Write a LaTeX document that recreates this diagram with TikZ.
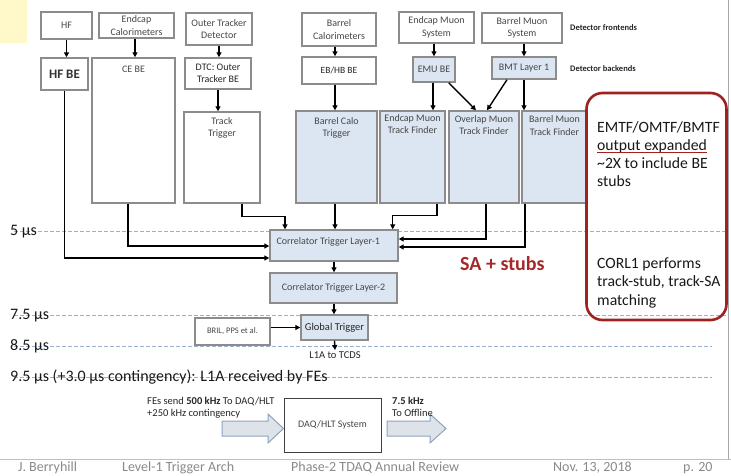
\documentclass[tikz,border=0pt]{standalone}
\usepackage{fontspec}
\setmainfont{Carlito}
\usetikzlibrary{arrows.meta,calc}
\definecolor{boxgray}{HTML}{8C8C8C}
\definecolor{lblue}{HTML}{DCE6F2}
\definecolor{txtgray}{HTML}{474747}
\definecolor{dashc}{HTML}{9AB0CC}
\definecolor{redc}{HTML}{9E2320}
\definecolor{sared}{HTML}{A6282B}
\definecolor{footgray}{HTML}{8A8A8A}
\definecolor{barrowfill}{HTML}{DEE3EA}
\definecolor{barrowline}{HTML}{8EA3BF}
\definecolor{yellowc}{HTML}{FFF8C8}
\newcommand\fBox{\fontsize{10}{12.5}\selectfont}
\newcommand\fTime{\fontsize{16}{19}\selectfont}
\newcommand\fRed{\fontsize{15.7}{18.5}\selectfont}
\newcommand\fFoot{\fontsize{14}{16}\selectfont}
\newcommand\fSmall{\fontsize{8.5}{10}\selectfont}
\newcommand\fMid{\fontsize{10.5}{12}\selectfont}
\begin{document}
\begin{tikzpicture}[x=1pt,y=-1pt,
  fbox/.style={draw=boxgray, line width=1.4pt, fill=white, text=txtgray, font=\fBox, align=center, inner sep=1pt},
  bbox/.style={fbox, fill=lblue},
  lab/.style={text=txtgray, font=\fBox, align=center, inner sep=0pt, anchor=north},
  arr/.style={draw=black, line width=1.4pt, -{Triangle[length=5pt,width=5pt]}},
  dline/.style={draw=dashc, line width=0.9pt, dash pattern=on 3.5pt off 2.5pt},
  tlab/.style={font=\fTime, inner sep=0pt, anchor=base west, text=black!90},
  rtxt/.style={font=\fRed, inner sep=0pt, anchor=base west, text=black!90},
  ftxt/.style={font=\fFoot, text=footgray, inner sep=0pt, anchor=base west},
  side/.style={font=\fSmall\bfseries, text=black!85, inner sep=0pt, anchor=base west},
  barrow/.style={draw=barrowline, fill=barrowfill, line width=1pt, line join=miter},
]
\useasboundingbox (0,0) rectangle (731,476);
\fill[white] (0,0) rectangle (731,476);
\fill[yellowc] (0,0) rectangle (27,43);
\draw[black!35, line width=1pt] (728.5,0) -- (728.5,459);
\draw[black!25, line width=1pt] (0,459) -- (731,459);

% time lines
\coordinate (d5a) at (14,231);   \coordinate (d5b) at (728,231);
\coordinate (d75a) at (14,315);  \coordinate (d75b) at (728,315);
\coordinate (d85a) at (14,346);  \coordinate (d85b) at (712,346);
\coordinate (d95a) at (14,377);  \coordinate (d95b) at (712,377);
\draw[dline] (d5a) -- (d5b);
\draw[dline] (d75a) -- (d75b);
\draw[dline] (d85a) -- (d85b);
\draw[dline] (d95a) -- (d95b);
\node[tlab] (t5) at (10,235.5) {5 µs};
\node[tlab] (t75) at (10,319.5) {7.5 µs};
\node[tlab] (t85) at (10,350.5) {8.5 µs};
\node[tlab] (t95) at (10,381.5) {9.5 µs (+3.0 µs contingency): L1A received by FEs};

% frontends
\node[fbox, minimum width=51, minimum height=27] (hf) at (66.5,25.5) {HF};
\node[fbox, minimum width=75, minimum height=25] (ecal) at (136.5,25.5) {Endcap\\Calorimeters};
\node[fbox, minimum width=66, minimum height=32] (otd) at (219,29) {Outer Tracker\\Detector};
\node[fbox, minimum width=74, minimum height=33] (bcal) at (339,29.5) {Barrel\\Calorimeters};
\node[fbox, minimum width=75, minimum height=31] (emus) at (436.5,27.5) {Endcap Muon\\System};
\node[fbox, minimum width=80, minimum height=30] (bmus) at (522,28) {Barrel Muon\\System};
\node[side] (dfe) at (570,31) {Detector frontends};

% backends
\node[fbox, minimum width=47, minimum height=32, font=\fontsize{13}{14}\selectfont\bfseries, text=black!80] (hfbe) at (64.5,74) {HF BE};
\node[fbox, minimum width=83, minimum height=145] (cebe) at (133.5,130.5) {};
\node[lab] (cebeT) at ([yshift=-9pt]cebe.north) {CE BE};
\node[fbox, minimum width=66, minimum height=31, text=black!85, font=\fontsize{10}{12.5}\selectfont] (dtc) at (218,73.5) {DTC: Outer\\Tracker BE};
\node[fbox, minimum width=76, minimum height=91] (tt) at (222,157.5) {};
\node[lab] (ttT) at ([yshift=-6pt]tt.north) {Track\\Trigger};
\node[fbox, minimum width=74, minimum height=27, text=black!85, font=\fontsize{9.5}{11}\selectfont] (ebhb) at (339,70.5) {EB/HB BE};
\node[bbox, minimum width=42, minimum height=25] (emube) at (434,69.5) {EMU BE};
\node[bbox, minimum width=64, minimum height=22] (bmtl1) at (524,68) {BMT Layer 1};
\node[side] (dbe) at (570,72) {Detector backends};

% trigger processors
\node[bbox, minimum width=81, minimum height=92] (bct) at (336.5,157) {};
\node[lab] (bctT) at ([yshift=-7pt]bct.north) {Barrel Calo\\Trigger};
\node[bbox, minimum width=65, minimum height=92] (emtf) at (412.5,157) {};
\node[lab] (emtfT) at ([yshift=-4pt]emtf.north) {Endcap Muon\\Track Finder};
\node[bbox, minimum width=70, minimum height=92] (omtf) at (484,157) {};
\node[lab] (omtfT) at ([yshift=-5pt]omtf.north) {Overlap Muon\\Track Finder};
\node[bbox, minimum width=65, minimum height=92] (bmtf) at (554.5,157) {};
\node[lab] (bmtfT) at ([yshift=-5.5pt]bmtf.north) {Barrel Muon\\Track Finder};

% correlator and GT
\node[bbox, minimum width=128, minimum height=31, anchor=center] (cl1) at (334,245.5) {};
\node[lab, anchor=west] (cl1T) at ([xshift=7pt,yshift=4pt]cl1.west) {Correlator Trigger Layer-1};
\node[bbox, minimum width=127, minimum height=30] (cl2) at (333.5,288) {Correlator Trigger Layer-2};
\node[bbox, minimum width=67, minimum height=25, text=black!85, font=\fontsize{10.5}{12}\selectfont] (gt) at (334.5,327.5) {Global Trigger};
\node[fbox, minimum width=75, minimum height=27, font=\fSmall] (bril) at (232.5,331.5) {BRIL, PPS et al.};
\node[inner sep=1pt, anchor=north, font=\fMid, text=black!85] (l1a) at (335,350) {L1A to TCDS};

% connectors
\draw[arr] (hf.south) -- (hf.south |- hfbe.north);
\draw[arr] ([xshift=-1.5pt]ecal.south) -- ([xshift=-1.5pt]ecal.south |- cebe.north);
\draw[arr] (otd.south) -- (otd.south |- dtc.north);
\draw[arr] (dtc.south) -- (dtc.south |- tt.north);
\draw[arr] ([xshift=-4pt]bcal.south) -- ([xshift=-4pt]bcal.south |- ebhb.north);
\draw[arr] ([xshift=-4pt]ebhb.south) -- ([xshift=-4pt]ebhb.south |- bct.north);
\draw[arr] (emube.north |- emus.south) -- (emube.north);
\draw[arr] ([xshift=-1pt]emube.south) -- ([xshift=-1pt]emube.south |- emtf.north);
\draw[arr] ([xshift=-7pt]emube.south east) -- ([xshift=-8pt]omtf.north);
\draw[arr] ([xshift=-17pt]bmtl1.south) -- ([xshift=3pt]omtf.north);
\draw[arr] (bmtl1.north |- bmus.south) -- (bmtl1.north);
\draw[arr] (bmtl1.south) -- (bmtl1.south |- bmtf.north);

\draw[arr] (hfbe.south) |- ([yshift=-12.5pt]cl1.west);
\draw[arr] ([xshift=-5.5pt]cebe.south) |- ([yshift=-0.5pt]cl1.west);
\draw[arr] ([xshift=20pt]tt.south) -- ++(0,13) -| ([xshift=-49pt]cl1.north);
\draw[arr] ([xshift=-1.5pt]bct.south) -- ([xshift=-1.5pt]bct.south |- cl1.north);
\draw[arr] ([xshift=24.5pt]emtf.south) -- ++(0,12) -| ([xshift=-6pt]cl1.north east);
\draw[arr] ([xshift=2pt]omtf.south) |- ([yshift=6.5pt]cl1.east);
\draw[arr] ([xshift=-29.5pt]bmtf.south) |- ([yshift=-1.5pt]cl1.east);
\draw[arr] (cl1.south) -- (cl1.south |- cl2.north);
\draw[arr] ([xshift=0.5pt]cl2.south) -- ([xshift=0.5pt]cl2.south |- gt.north);
\draw[arr] (bril.east |- gt.west) -- (gt.west);
\draw[arr] (gt.south) -- (l1a.north);

% SA + stubs
\node[font=\fontsize{20}{22}\selectfont\bfseries, text=sared, inner sep=0pt, anchor=base west] (sa) at (460,270) {SA + stubs};

% red note box
\node[draw=redc, line width=2.6pt, rounded corners=16pt, minimum width=140, minimum height=227, inner sep=0pt] (note) at (656.5,206.5) {};
\node[rtxt] (n1) at (597,133) {EMTF/OMTF/BMTF};
\node[rtxt] (n2) at (597,150) {output expanded};
\draw[redc, line width=1pt] ([yshift=-2.5pt]n2.base west) -- ([yshift=-2.5pt]n2.base east);
\node[rtxt] (n3) at (597,168) {\textasciitilde 2X to include BE};
\node[rtxt] (n4) at (597,186.5) {stubs};
\node[rtxt] (n5) at (597,268) {CORL1 performs};
\node[rtxt] (n6) at (597,286.5) {track-stub, track-SA};
\node[rtxt] (n7) at (597,305) {matching};

% DAQ part
\node[draw=black!75, line width=1pt, fill=white, minimum width=97, minimum height=54, font=\fBox, text=txtgray] (daq) at (332.5,425) {DAQ/HLT System};
\draw[barrow] (222,421) -- (268,421) -- (268,414) -- (daq.west |- 0,428.5) -- (268,443) -- (268,436) -- (222,436) -- cycle;
\draw[barrow] (387,421) -- (430,421) -- (430,414) -- (446,428.5) -- (430,443) -- (430,436) -- (387,436) -- cycle;
\node[font=\fMid, inner sep=0pt, anchor=base west, text=black!85] (fe1) at (147,404.5) {FEs send \textbf{500 kHz} To DAQ/HLT};
\node[font=\fMid, inner sep=0pt, anchor=base west, text=black!85] (fe2) at (147,416) {+250 kHz contingency};
\node[font=\fMid\bfseries, inner sep=0pt, anchor=base west, text=black!85] (of1) at (392,404.5) {7.5 kHz};
\node[font=\fMid, inner sep=0pt, anchor=base west, text=black!85] (of2) at (392,416) {To Offline};

% footer
\node[ftxt] (f1) at (18,471.5) {J. Berryhill};
\node[ftxt] (f2) at (122,471.5) {Level-1 Trigger Arch};
\node[ftxt] (f3) at (291,471.5) {Phase-2 TDAQ Annual Review};
\node[ftxt] (f4) at (553,471.5) {Nov. 13, 2018};
\node[ftxt] (f5) at (683,471.5) {p. 20};
\end{tikzpicture}
\end{document}
